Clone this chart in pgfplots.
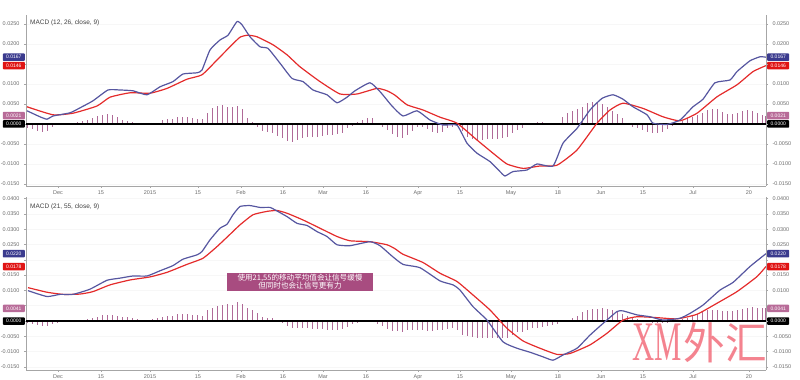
\documentclass[border=0pt]{standalone}
\usepackage{pgfplots}
\pgfplotsset{compat=1.18}
\usepackage{fontspec}
\setmainfont{Liberation Sans}
\newfontfamily\cjk{Noto Sans CJK SC}
\newfontfamily\wmserif{Liberation Serif}
\definecolor{macdblue}{HTML}{5656A0}
\definecolor{sigred}{HTML}{E42B2B}
\definecolor{histc}{HTML}{B06A98}
\definecolor{boxblue}{HTML}{3B3B8E}
\definecolor{boxred}{HTML}{E01414}
\definecolor{boxmauve}{HTML}{B86B98}
\definecolor{annot}{HTML}{A84C80}
\definecolor{wm}{HTML}{F05A6A}
\tikzset{
  lbox/.style={anchor=east, fill=#1, text=white, font=\fontsize{5}{5.5}\selectfont, minimum width=22bp, minimum height=7.5bp, inner sep=0.5bp, rounded corners=0.8bp},
  rbox/.style={anchor=west, fill=#1, text=white, font=\fontsize{5}{5.5}\selectfont, minimum width=22bp, minimum height=7.5bp, inner sep=0.5bp, rounded corners=0.8bp},
}
\pgfplotsset{
  panel/.style={
    scale only axis, width=740bp, xmin=26, xmax=766,
    clip mode=individual, scaled y ticks=false,
    axis line style={gray!70, line width=0.5bp},
    tick style={gray!70, line width=0.5bp},
    tick align=outside, major tick length=2bp,
    ticklabel style={font=\fontsize{5.5}{6}\selectfont, text=gray!85!black},
    xtick={58,101,150,198,241,283,323,366,418,460,511,558,601,643,693,749},
    xticklabels={Dec,15,2015,15,Feb,16,Mar,16,Apr,15,May,18,Jun,15,Jul,20},
    ymajorgrids, grid style={gray!6, line width=0.4bp},
    yticklabel style={xshift=-1bp},
    xticklabel style={yshift=1bp},
  },
  rightpanel/.style={
    scale only axis, width=740bp, xmin=26, xmax=766, scaled y ticks=false,
    axis y line*=right, axis x line=none,
    axis line style={gray!70, line width=0.5bp},
    tick style={gray!70, line width=0.5bp},
    tick align=outside, major tick length=2bp,
    ticklabel style={font=\fontsize{5.5}{6}\selectfont, text=gray!85!black},
    yticklabel style={xshift=1bp},
  },
}
\begin{document}
\begin{tikzpicture}
\useasboundingbox (0,0) rectangle (800bp,380bp);
% ================= TOP PANEL =================
\begin{axis}[panel, at={(26bp,194bp)}, anchor=south west, height=171bp,
  ymin=-0.0155, ymax=0.02725, ytick={-0.015,-0.01,-0.005,0,0.005,0.01,0.015,0.02,0.025},
  yticklabels={-0.0150,-0.0100,-0.0050,,0.0050,0.0100,,0.0200,0.0250},
  axis x line*=bottom, axis y line*=left]
\addplot[ycomb, histc, line width=1bp, no markers] coordinates {
(27,-0.0011)(32,-0.0013)(37,-0.0017)(42,-0.0019)(47,-0.0017)(52,-0.0008)(57,-0.0003)(62,-0.0001)(67,0)(72,0.0002)(77,0.0006)(82,0.0008)(87,0.001)(92,0.0014)(97,0.002)(102,0.0023)(107,0.0024)(112,0.0023)(117,0.0017)(122,0.001)(127,0.0007)(132,0.0004)(137,0.0003)(142,0.0001)(147,-0.0002)(152,-0.0001)(157,0.0003)(162,0.001)(167,0.0012)(172,0.0013)(177,0.0017)(182,0.0018)(187,0.0018)(192,0.0014)(197,0.0012)(202,0.0013)(207,0.0027)(212,0.0041)(217,0.0046)(222,0.0048)(227,0.0043)(232,0.0043)(237,0.0046)(242,0.0037)(247,0.0014)(252,0.0006)(257,-0.0007)(262,-0.0017)(267,-0.0019)(272,-0.0022)(277,-0.003)(282,-0.0036)(287,-0.0043)(292,-0.0044)(297,-0.004)(302,-0.0036)(307,-0.0032)(312,-0.0033)(317,-0.0032)(322,-0.003)(327,-0.0028)(332,-0.0028)(337,-0.0025)(342,-0.0022)(347,-0.0011)(352,-0.0005)(357,0.0006)(362,0.001)(367,0.0014)(372,0.0014)(377,0.0002)(382,-0.0007)(387,-0.0015)(392,-0.0025)(397,-0.0032)(402,-0.0034)(407,-0.0028)(412,-0.0017)(417,-0.0007)(422,-0.0008)(427,-0.0013)(432,-0.0019)(437,-0.0023)(442,-0.0019)(447,-0.0011)(452,-0.0007)(457,-0.0003)(462,-0.0017)(467,-0.0032)(472,-0.0038)(477,-0.004)(482,-0.004)(487,-0.0038)(492,-0.0038)(497,-0.0037)(502,-0.0036)(507,-0.0032)(512,-0.0022)(517,-0.0015)(522,-0.001)(527,-0.0003)(532,0)(537,0.0005)(542,0.0005)(547,0.0002)(552,0)(557,0.0003)(562,0.0017)(567,0.0028)(572,0.0033)(577,0.0037)(582,0.0043)(587,0.0052)(592,0.0056)(597,0.0054)(602,0.0049)(607,0.0042)(612,0.0033)(617,0.0025)(622,0.0014)(627,0.0003)(632,-0.0007)(637,-0.0011)(642,-0.0015)(647,-0.0019)(652,-0.0022)(657,-0.0023)(662,-0.002)(667,-0.0012)(672,-0.0005)(677,0.0002)(682,0.0008)(687,0.0014)(692,0.0018)(697,0.0022)(702,0.0027)(707,0.0035)(712,0.0037)(717,0.0037)(722,0.0031)(727,0.0025)(732,0.0025)(737,0.0027)(742,0.0033)(747,0.0035)(752,0.0033)(757,0.0027)(762,0.0023)(765,0.0021)};
\addplot[black, line width=1.8bp, no markers] coordinates {(26,0) (766,0)};
\addplot[sigred, line width=1.2bp, no markers, smooth, tension=0.3] coordinates {
(27,0.0043)(53,0.0023)(73,0.0027)(97,0.0045)(110,0.0067)(130,0.0078)(150,0.0077)(167,0.0089)(187,0.0112)(202,0.0123)(217,0.016)(230,0.0193)(240,0.0217)(248,0.0222)(257,0.0218)(273,0.0198)(287,0.0173)(300,0.0143)(320,0.0106)(340,0.0075)(357,0.0075)(377,0.0089)(387,0.0083)(395,0.0072)(407,0.0048)(423,0.0035)(440,0.0017)(457,0.0002)(477,-0.004)(493,-0.0073)(507,-0.01)(523,-0.0111)(540,-0.0105)(557,-0.0103)(577,-0.0065)(597,0.0002)(610,0.0035)(623,0.0052)(643,0.0039)(663,0.0018)(680,0.0008)(697,0.0027)(717,0.0068)(737,0.0098)(753,0.0131)(766,0.0146)};
\addplot[macdblue, line width=1.2bp, no markers, smooth, tension=0.3] coordinates {
(27,0.0033)(40,0.0018)(47,0.0012)(53,0.002)(70,0.0028)(82,0.0043)(93,0.0058)(108,0.0085)(120,0.0085)(133,0.0083)(147,0.0073)(160,0.0093)(173,0.0106)(183,0.0125)(197,0.0128)(202,0.0135)(210,0.0185)(220,0.021)(228,0.0222)(237,0.0256)(242,0.0248)(250,0.0218)(260,0.0193)(268,0.0189)(280,0.0152)(292,0.0114)(303,0.0106)(313,0.0085)(327,0.0073)(337,0.0053)(347,0.0067)(355,0.0083)(370,0.0103)(380,0.0081)(392,0.0045)(403,0.002)(417,0.0033)(430,0.001)(443,-0.00025)(457,-0.0003)(467,-0.0048)(477,-0.0073)(490,-0.0094)(500,-0.0119)(505,-0.013)(513,-0.0119)(527,-0.0115)(537,-0.01)(553,-0.0105)(563,-0.0048)(577,-0.0011)(590,0.0035)(602,0.0064)(613,0.0073)(623,0.0062)(633,0.0043)(647,0.0023)(653,0.0002)(667,-0.0001)(680,0.001)(693,0.0043)(703,0.0062)(715,0.0103)(730,0.011)(737,0.0131)(750,0.0158)(760,0.0168)(766,0.0167)};
\node[anchor=north west, font=\fontsize{6.5}{7}\selectfont, text=black!75, inner sep=0pt] at (axis cs:30,0.0262) {MACD (12, 26, close, 9)};
\node[lbox=boxblue] at (axis cs:25,0.0167) {0.0167};
\node[lbox=boxred] at (axis cs:25,0.0146) {0.0146};
\node[lbox=boxmauve] at (axis cs:25,0.0021) {0.0021};
\node[lbox=black] at (axis cs:25,0) {0.0000};
\node[rbox=boxblue] at (axis cs:767,0.0167) {0.0167};
\node[rbox=boxred] at (axis cs:767,0.0146) {0.0146};
\node[rbox=boxmauve] at (axis cs:767,0.0021) {0.0021};
\node[rbox=black] at (axis cs:767,0) {0.0000};
\end{axis}
\begin{axis}[rightpanel, at={(26bp,194bp)}, anchor=south west, height=171bp,
  ymin=-0.0155, ymax=0.02725, ytick={-0.015,-0.01,-0.005,0,0.005,0.01,0.015,0.02,0.025},
  yticklabels={-0.0150,-0.0100,-0.0050,,0.0050,0.0100,,0.0200,0.0250}]
\addplot[draw=none] coordinates {(100,0)};
\end{axis}
% ================= BOTTOM PANEL =================
\begin{axis}[panel, at={(26bp,10bp)}, anchor=south west, height=173bp,
  ymin=-0.016, ymax=0.0405, ytick={-0.015,-0.01,-0.005,0,0.005,0.01,0.015,0.02,0.025,0.03,0.035,0.04},
  yticklabels={-0.0150,-0.0100,-0.0050,,,0.0100,0.0150,,0.0250,0.0300,0.0350,0.0400},
  axis x line*=bottom, axis y line*=left]
\addplot[ycomb, histc, line width=1bp, no markers] coordinates {
(27,-0.0008)(32,-0.0011)(37,-0.0013)(42,-0.0015)(47,-0.0015)(52,-0.0011)(57,-0.0008)(62,-0.0004)(67,-0.0002)(72,-0.0001)(77,0)(82,0.0002)(87,0.0005)(92,0.0009)(97,0.0014)(102,0.0019)(107,0.0021)(112,0.0021)(117,0.0017)(122,0.0014)(127,0.0012)(132,0.001)(137,0.0008)(142,0.0004)(147,0.0001)(152,0.0007)(157,0.0011)(162,0.0014)(167,0.0015)(172,0.0017)(177,0.0022)(182,0.0024)(187,0.0022)(192,0.002)(197,0.002)(202,0.0017)(207,0.0036)(212,0.0044)(217,0.005)(222,0.0052)(227,0.0055)(232,0.0052)(237,0.0061)(242,0.0055)(247,0.0044)(252,0.0036)(257,0.0025)(262,0.0014)(267,0.0011)(272,0.0011)(277,0.0002)(282,-0.0005)(287,-0.0017)(292,-0.0022)(297,-0.0022)(302,-0.0024)(307,-0.0024)(312,-0.0026)(317,-0.0026)(322,-0.0026)(327,-0.0029)(332,-0.0029)(337,-0.0029)(342,-0.0026)(347,-0.0019)(352,-0.0011)(357,-0.0008)(362,-0.0004)(367,-0.0002)(372,-0.0004)(377,-0.0009)(382,-0.0016)(387,-0.0027)(392,-0.0033)(397,-0.0033)(402,-0.0035)(407,-0.0029)(412,-0.0029)(417,-0.0029)(422,-0.0029)(427,-0.0033)(432,-0.0033)(437,-0.0029)(442,-0.0029)(447,-0.0026)(452,-0.0024)(457,-0.0029)(462,-0.0046)(467,-0.0048)(472,-0.0051)(477,-0.0055)(482,-0.0055)(487,-0.0055)(492,-0.0055)(497,-0.0057)(502,-0.0057)(507,-0.0057)(512,-0.0046)(517,-0.0037)(522,-0.0035)(527,-0.0029)(532,-0.0024)(537,-0.0022)(542,-0.0019)(547,-0.0015)(552,-0.0013)(557,-0.0011)(562,-0.0004)(567,0.0002)(572,0.0009)(577,0.0017)(582,0.0028)(587,0.0035)(592,0.0038)(597,0.004)(602,0.0041)(607,0.0039)(612,0.0035)(617,0.0031)(622,0.0024)(627,0.0017)(632,0.0011)(637,0.0007)(642,0.0002)(647,-0.0002)(652,-0.0005)(657,-0.0008)(662,-0.0008)(667,-0.0005)(672,-0.0002)(677,0.0002)(682,0.0007)(687,0.0011)(692,0.0016)(697,0.0022)(702,0.0028)(707,0.0035)(712,0.0036)(717,0.0035)(722,0.0033)(727,0.0033)(732,0.0033)(737,0.0036)(742,0.0039)(747,0.0044)(752,0.0046)(757,0.0044)(762,0.0041)(765,0.0041)};
\addplot[black, line width=1.8bp, no markers] coordinates {(26,0) (766,0)};
\addplot[sigred, line width=1.2bp, no markers, smooth, tension=0.3] coordinates {
(28,0.0109)(47,0.0094)(63,0.0087)(80,0.0088)(93,0.0096)(110,0.0118)(130,0.0134)(150,0.0144)(167,0.0159)(187,0.0185)(203,0.0205)(217,0.0243)(230,0.0283)(240,0.0314)(253,0.0347)(267,0.0358)(277,0.0361)(287,0.0352)(303,0.033)(320,0.0303)(337,0.0276)(350,0.0262)(370,0.0259)(387,0.0249)(395,0.0236)(403,0.0218)(423,0.0191)(440,0.0156)(457,0.0129)(473,0.0085)(490,0.0036)(507,-0.0024)(523,-0.0065)(540,-0.0089)(557,-0.0109)(570,-0.0106)(590,-0.0078)(607,-0.004)(623,0.0003)(637,0.0014)(657,0.0011)(677,0.0007)(697,0.0022)(717,0.0058)(737,0.0096)(757,0.0145)(766,0.0178)};
\addplot[macdblue, line width=1.2bp, no markers, smooth, tension=0.3] coordinates {
(28,0.0099)(47,0.008)(60,0.0087)(73,0.0087)(90,0.0104)(107,0.0133)(120,0.014)(133,0.0147)(147,0.0147)(160,0.0164)(173,0.0181)(183,0.0202)(197,0.0216)(202,0.0227)(210,0.0265)(220,0.0303)(227,0.0316)(233,0.0347)(240,0.0374)(250,0.0377)(260,0.0371)(270,0.0371)(275,0.0363)(287,0.0341)(297,0.0319)(307,0.0312)(317,0.0292)(327,0.0276)(337,0.0249)(350,0.0246)(370,0.0259)(380,0.0246)(392,0.0212)(403,0.0185)(420,0.0174)(440,0.0131)(453,0.0118)(460,0.0101)(473,0.0047)(487,0.0003)(503,-0.0068)(517,-0.0089)(530,-0.0102)(543,-0.0117)(553,-0.0128)(563,-0.0111)(577,-0.0089)(590,-0.0046)(603,-0.0008)(617,0.0031)(623,0.0033)(637,0.002)(650,0.0014)(663,0.0003)(680,0.0009)(690,0.0025)(703,0.0052)(720,0.0101)(733,0.0126)(750,0.0178)(766,0.022)};
\node[anchor=north west, font=\fontsize{6.5}{7}\selectfont, text=black!75, inner sep=0pt] at (axis cs:30,0.0385) {MACD (21, 55, close, 9)};
\node[fill=annot, text=white, font=\cjk\fontsize{7.6}{8.2}\selectfont, align=center, inner xsep=1.5bp, inner ysep=1.2bp, minimum width=146bp] at (axis cs:300,0.0128) {使用21,55的移动平均值会让信号缓慢\\但同时也会让信号更有力};
\node[lbox=boxblue] at (axis cs:25,0.0220) {0.0220};
\node[lbox=boxred] at (axis cs:25,0.0178) {0.0178};
\node[lbox=boxmauve] at (axis cs:25,0.0041) {0.0041};
\node[lbox=black] at (axis cs:25,0) {0.0000};
\node[rbox=boxblue] at (axis cs:767,0.0220) {0.0220};
\node[rbox=boxred] at (axis cs:767,0.0178) {0.0178};
\node[rbox=boxmauve] at (axis cs:767,0.0041) {0.0041};
\node[rbox=black] at (axis cs:767,0) {0.0000};
\end{axis}
\begin{axis}[rightpanel, at={(26bp,10bp)}, anchor=south west, height=173bp,
  ymin=-0.016, ymax=0.0405, ytick={-0.015,-0.01,-0.005,0,0.005,0.01,0.015,0.02,0.025,0.03,0.035,0.04},
  yticklabels={-0.0150,-0.0100,-0.0050,,,0.0100,0.0150,,0.0250,0.0300,0.0350,0.0400}]
\addplot[draw=none] coordinates {(100,0)};
\end{axis}
% watermark
\node[text=wm, opacity=0.75, font=\wmserif\fontsize{56}{56}\selectfont, xscale=0.55, inner sep=0pt] at (657bp,38bp) {XM};
\node[text=wm, opacity=0.75, font=\cjk\fontsize{44}{44}\selectfont, xscale=0.95, inner sep=0pt] at (725bp,37bp) {外汇};
\end{tikzpicture}
\end{document}
